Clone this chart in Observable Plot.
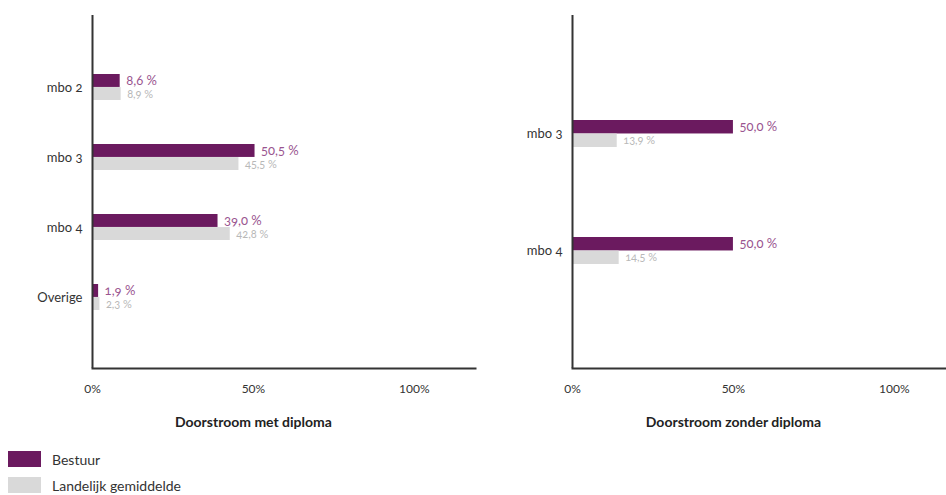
<!DOCTYPE html>
<html>
<head>
<meta charset="utf-8">
<script src="https://cdn.jsdelivr.net/npm/d3@7"></script>
<script src="https://cdn.jsdelivr.net/npm/@observablehq/plot@0.6"></script>
<style>
  html, body { margin: 0; padding: 0; background: #fff; overflow: hidden; }
  #wrap { position: relative; width: 946px; height: 495px; font-family: Lato, "Open Sans", sans-serif; font-variant-numeric: oldstyle-nums; }
  .panel { position: absolute; top: 0; }
  .legend { position: absolute; left: 8px; font-size: 14px; color: #333; }
  .legend .item { display: flex; align-items: center; height: 26px; }
  .legend .sw { width: 33px; height: 16px; margin-right: 11px; }
</style>
</head>
<body>
<div id="wrap"></div>
<script>
// Doorstroom met diploma
const withCats = ["mbo 2", "mbo 3", "mbo 4", "Overige"];
const withBestuur = [8.6, 50.5, 39.0, 1.9];
const withLandelijk = [8.9, 45.5, 42.8, 2.3];

// Doorstroom zonder diploma
const withoutCats = ["mbo 3", "mbo 4"];
const withoutBestuur = [50.0, 50.0];
const withoutLandelijk = [13.9, 14.5];

const seriesNames = ["Bestuur", "Landelijk gemiddelde"];
const xTicks = [0, 50, 100];

const purple = "#6b1a5f";
const purpleText = "#9a5590";
const grey = "#d9d9d9";
const greyText = "#b8b8b8";
const ink = "#333";

const W = 480, H = 440, mTop = 15, mBottom = 72, mLeft = 92, mRight = 5;
const pct = v => v.toFixed(1).replace(".", ",") + " %";

function panel(cats, bestuur, landelijk, title, paddingInner) {
  const paddingOuter = (1 + paddingInner) / 2;
  const rows = cats.map((c, i) => ({cat: c, bestuur: bestuur[i], landelijk: landelijk[i]}));
  // band width of one category, split between the two series
  const step = (H - mTop - mBottom) / (cats.length - paddingInner + 2 * paddingOuter);
  const half = step * (1 - paddingInner) / 2;
  return Plot.plot({
    width: W, height: H,
    marginTop: mTop, marginBottom: mBottom, marginLeft: mLeft, marginRight: mRight,
    style: {fontFamily: "Lato, 'Open Sans', sans-serif", background: "transparent", fontVariantNumeric: "oldstyle-nums"},
    x: {domain: [0, 119], ticks: xTicks, tickFormat: d => d + "%", tickSize: 0, tickPadding: 16, label: null},
    y: {domain: cats, paddingInner, paddingOuter, tickSize: 0, tickPadding: 10, label: null},
    marks: [
      Plot.barX(rows, {x: "bestuur", y: "cat", fill: purple, insetBottom: half, insetTop: 0}),
      Plot.barX(rows, {x: "landelijk", y: "cat", fill: grey, insetTop: half, insetBottom: 0}),
      Plot.text(rows, {x: "bestuur", y: "cat", text: d => pct(d.bestuur), dx: 6, dy: -half / 2, textAnchor: "start", fill: purpleText, fontSize: 13}),
      Plot.text(rows, {x: "landelijk", y: "cat", text: d => pct(d.landelijk), dx: 6, dy: half / 2, textAnchor: "start", fill: greyText, fontSize: 11}),
      Plot.ruleX([0], {stroke: ink, strokeWidth: 2}),
      Plot.frame({anchor: "bottom", stroke: ink, strokeWidth: 2}),
      Plot.axisX({tickSize: 0, tickPadding: 16, fontSize: 12, fill: ink, tickFormat: d => d + "%", ticks: xTicks}),
      Plot.axisY({tickSize: 0, tickPadding: 10, fontSize: 13, fill: ink}),
      Plot.text([title], {x: () => 50, frameAnchor: "bottom", dy: 58, fontWeight: "bold", fontSize: 14, fill: "#222"})
    ]
  });
}

const wrap = document.getElementById("wrap");
const left = panel(withCats, withBestuur, withLandelijk, "Doorstroom met diploma", 0.63);
left.classList.add("panel");
left.style.left = "0px";
wrap.appendChild(left);

const right = panel(withoutCats, withoutBestuur, withoutLandelijk, "Doorstroom zonder diploma", 0.77);
right.classList.add("panel");
right.style.left = "480px";
wrap.appendChild(right);

const legend = document.createElement("div");
legend.className = "legend";
legend.style.top = "446px";
[purple, grey].forEach((c, i) => {
  const item = document.createElement("div");
  item.className = "item";
  const sw = document.createElement("span");
  sw.className = "sw";
  sw.style.background = c;
  const label = document.createElement("span");
  label.textContent = seriesNames[i];
  item.append(sw, label);
  legend.appendChild(item);
});
wrap.appendChild(legend);
</script>
</body>
</html>
